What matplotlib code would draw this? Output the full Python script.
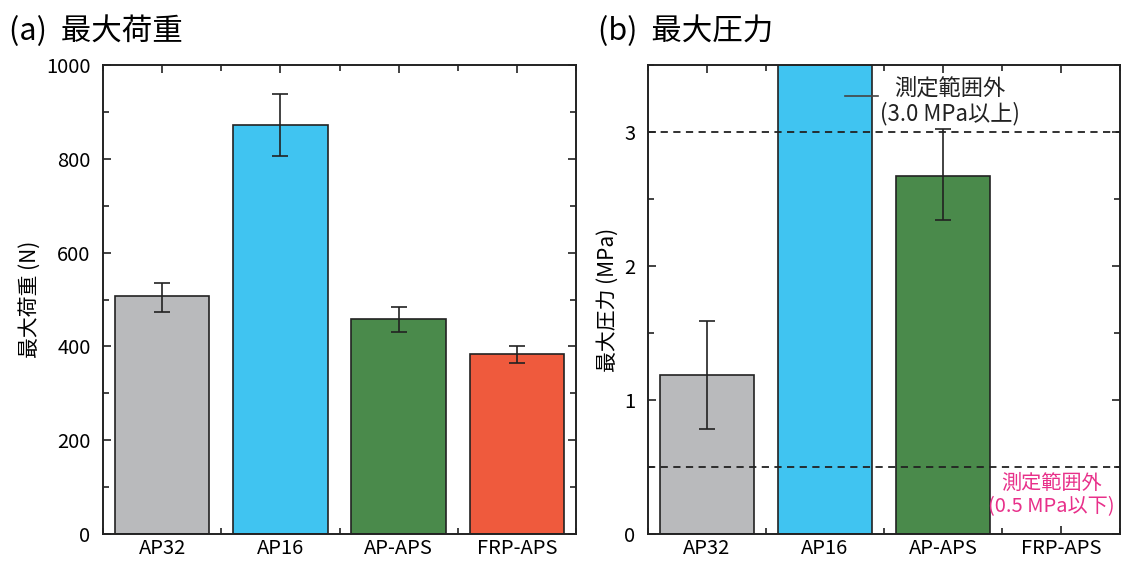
import numpy as np
import matplotlib.pyplot as plt
from matplotlib.ticker import MultipleLocator

plt.rcParams['font.family'] = ['Noto Sans CJK JP', 'DejaVu Sans']

# Data
categories = ["AP32", "AP16", "AP-APS", "FRP-APS"]
colors = ["#b9babc", "#40c4f1", "#4a8a4b", "#ef5a3d"]

load_mean = [507, 872, 458, 384]
load_err_lo = [34, 66, 27, 19]
load_err_hi = [28, 66, 26, 17]

press_cats = [0, 1, 2]
press_mean = [1.19, 3.6, 2.67]
press_err_lo = [0.41, 0.0, 0.33]
press_err_hi = [0.40, 0.0, 0.35]
press_colors = colors[:3]

limit_hi = 3.0
limit_lo = 0.5

fig = plt.figure(figsize=(11.25, 5.61), dpi=100)
ax1 = fig.add_axes([0.0916, 0.0481, 0.4204, 0.836])
ax2 = fig.add_axes([0.576, 0.0481, 0.4196, 0.836])

x = np.arange(len(categories))


def style(ax):
    ax.set_xlim(-0.5, 3.5)
    ax.set_xticks(x)
    ax.set_xticklabels(categories)
    ax.xaxis.set_minor_locator(MultipleLocator(0.5))
    ax.tick_params(which='both', direction='in', top=True, right=True,
                   labelsize=14.5, color='#222222', width=1.2)
    ax.tick_params(which='major', length=6)
    ax.tick_params(which='minor', length=4)
    ax.tick_params(axis='y', pad=9)
    ax.tick_params(axis='x', pad=3)
    for s in ax.spines.values():
        s.set_linewidth(1.4)
        s.set_color('#222222')


# (a) max load
ax1.bar(x, load_mean, width=0.8, color=colors, edgecolor='#222222', linewidth=1.2, zorder=2)
ax1.errorbar(x, load_mean, yerr=[load_err_lo, load_err_hi], fmt='none',
             ecolor='#222222', elinewidth=1.2, capsize=6, capthick=1.2, zorder=3)
ax1.set_ylim(0, 1000)
ax1.yaxis.set_major_locator(MultipleLocator(200))
ax1.yaxis.set_minor_locator(MultipleLocator(100))
ax1.set_ylabel("最大荷重 (N)", fontsize=15, labelpad=4)
style(ax1)

# (b) max pressure
ax2.bar(press_cats, press_mean, width=0.8, color=press_colors, edgecolor='#222222',
        linewidth=1.2, zorder=2)
ax2.errorbar([0, 2], [press_mean[0], press_mean[2]],
             yerr=[[press_err_lo[0], press_err_lo[2]], [press_err_hi[0], press_err_hi[2]]],
             fmt='none', ecolor='#222222', elinewidth=1.2, capsize=6, capthick=1.2, zorder=4)
ax2.axhline(limit_hi, color='#222222', linestyle=(0, (4, 3)), linewidth=1.3, zorder=3)
ax2.axhline(limit_lo, color='#222222', linestyle=(0, (4, 3)), linewidth=1.3, zorder=3)
ax2.set_ylim(0, 3.5)
ax2.yaxis.set_major_locator(MultipleLocator(1))
ax2.yaxis.set_minor_locator(MultipleLocator(0.5))
ax2.set_ylabel("最大圧力 (MPa)", fontsize=15, labelpad=4)
style(ax2)

ax2.plot([1.17, 1.45], [3.27, 3.27], color='#444444', linewidth=1.2, zorder=5)
ax2.text(2.06, 3.23, "測定範囲外\n(3.0 MPa以上)", fontsize=16, va='center', ha='center',
         multialignment='center', color='#222222', linespacing=1.1, zorder=5)
ax2.text(2.92, 0.29, "測定範囲外\n(0.5 MPa以下)", fontsize=14.5, va='center', ha='center',
         multialignment='center', color='#e8308a', linespacing=1.15, clip_on=False, zorder=5)

fig.text(0.008, 0.945, "(a)  最大荷重", fontsize=22, va='center', ha='left')
fig.text(0.532, 0.945, "(b)  最大圧力", fontsize=22, va='center', ha='left')

fig.savefig("out.png", dpi=100)
